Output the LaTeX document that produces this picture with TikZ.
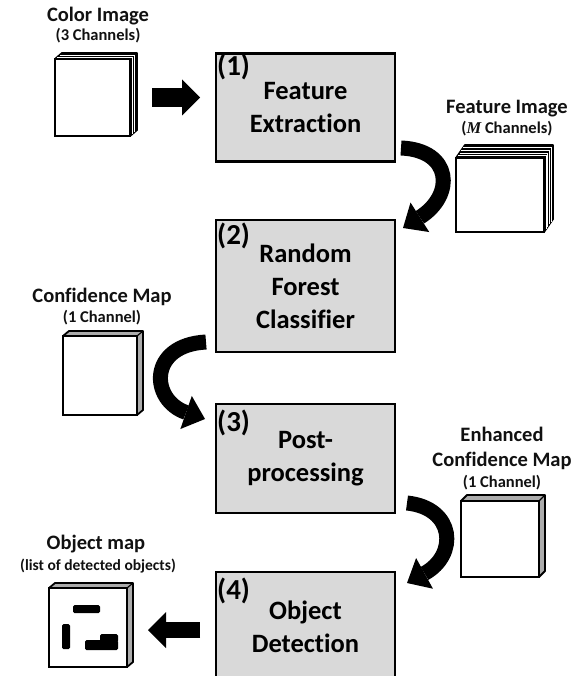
\documentclass[tikz,border=0pt]{standalone}
\usepackage{fontspec}
\setmainfont{Carlito}[Ligatures=NoCommon]
\newfontfamily\mserif{Liberation Serif}
\usetikzlibrary{arrows.meta,calc,backgrounds}
\definecolor{boxgray}{HTML}{D9D9D9}
\definecolor{labelcol}{HTML}{111111}
\newcommand\slabback[6]{%
  \begin{scope}[on background layer]
    \filldraw[fill=#4, draw=black, line width=1.8pt, line join=round]
      (#1.north west) -- ++(#2,-#3) -- ($(#1.north east)+(#2,-#3)$) -- ($(#1.south east)+(#2,-#3)$) -- (#1.south east) -- (#1.north east) -- cycle;
    \draw[black, line width=1.2pt] (#1.north east) -- ++(#2,-#3);
    \ifnum#5>0
    \foreach \i in {1,...,#5}{
      \draw[#6, line width=0.5pt] ($(#1.north west)+({\i*#2/(#5+1)},{-\i*#3/(#5+1)})$) -- ($(#1.north east)+({\i*#2/(#5+1)},{-\i*#3/(#5+1)})$) -- ($(#1.south east)+({\i*#2/(#5+1)},{-\i*#3/(#5+1)})$);
    }
    \fi
  \end{scope}
}
\begin{document}
\begin{tikzpicture}[x=1pt,y=-1pt,
  procbox/.style={draw=black, line width=2.8pt, fill=boxgray, outer sep=0pt, inner sep=0pt},
  cube/.style={draw=black, line width=2.4pt, fill=white, outer sep=0pt, inner sep=0pt},
  boxtext/.style={font=\fontsize{26.5}{33}\selectfont\bfseries, align=center, inner sep=0pt},
  numtext/.style={font=\fontsize{29}{30}\selectfont\bfseries, inner sep=0pt, anchor=base west},
  lbl/.style={font=\fontsize{20.5}{24}\selectfont\bfseries, inner sep=0pt, anchor=base, text=labelcol},
  sublbl/.style={font=\fontsize{16.5}{18}\selectfont\bfseries, inner sep=0pt, anchor=base, text=labelcol},
  straightarrow/.style={line width=#1, -{Triangle[length=18pt,width=36pt,line width=0pt]}},
  curvearrow/.style={line width=15pt, -{Triangle[length=20pt,width=35pt,line width=0pt]}},
  objbar/.style={fill=black, rounded corners=1.5pt}
]
\useasboundingbox (0,0) rectangle (580,676);
\clip (0,0) rectangle (580,676);

% process boxes
\node[procbox, minimum width=179pt, minimum height=108pt] (b1) at (305.5,107.5) {};
\node[procbox, minimum width=179pt, minimum height=132pt] (b2) at (305.5,286) {};
\node[procbox, minimum width=179pt, minimum height=109pt] (b3) at (305.5,458.5) {};
\node[procbox, minimum width=179pt, minimum height=109pt] (b4) at (305.5,626.5) {};

\node[numtext] (n1) at (217,76) {(1)};
\node[numtext] (n2) at (217,244) {(2)};
\node[numtext] (n3) at (217,431) {(3)};
\node[numtext] (n4) at (217,599) {(4)};

\node[boxtext] (t1) at (b1.center) {Feature\\Extraction};
\node[boxtext] (t2) at (b2.center) {Random\\Forest\\Classifier};
\node[boxtext] (t3) at (b3.center) {Post-\\processing};
\node[boxtext] (t4) at (b4.center) {Object\\Detection};

% image stacks
\node[cube, minimum width=75pt, minimum height=77pt] (ci) at (92.5,97.5) {};
\slabback{ci}{7}{6}{black}{2}{white}
\node[cube, minimum width=88pt, minimum height=74pt] (fi) at (500,195) {};
\slabback{fi}{9}{13}{black}{4}{white}
\node[cube, minimum width=74pt, minimum height=79pt] (cm) at (100,375.5) {};
\slabback{cm}{6}{5}{gray!65}{0}{white}
\node[cube, minimum width=78pt, minimum height=76pt] (ecm) at (500,539) {};
\slabback{ecm}{6}{6}{gray!65}{0}{white}
\node[cube, minimum width=78pt, minimum height=79pt] (om) at (88,627.5) {};
\slabback{om}{6}{5}{gray!65}{0}{white}

% detected objects
\fill[objbar] (73,605) rectangle (100,613);
\fill[objbar] (62,624) rectangle (70,649);
\fill[objbar] (85,640) rectangle (118,650);
\fill[objbar] (100,634) rectangle (118,642);

% labels
\node[lbl] (l1) at (98,22) {Color Image};
\node[sublbl] (s1) at (98,41) {(3 Channels)};
\node[lbl] (l2) at (507,114) {Feature Image};
\node[sublbl] (s2) at (507,134) {({\mserif\bfseries\itshape M} Channels)};
\node[lbl] (l3) at (102,302) {Confidence Map};
\node[sublbl] (s3) at (102,322) {(1 Channel)};
\node[lbl] (l4a) at (502,441) {Enhanced};
\node[lbl] (l4b) at (502,466) {Confidence Map};
\node[sublbl] (s4) at (502,487) {(1 Channel)};
\node[lbl] (l5) at (96,549) {Object map};
\node[sublbl, font=\fontsize{15.5}{18}\selectfont\bfseries] (s5) at (98,570) {(list of detected objects)};

% straight arrows
\draw[straightarrow=19pt, shorten <=22pt, shorten >=16pt] (ci.east) -- (ci.east -| b1.west);
\draw[straightarrow=16pt, shorten <=16pt, shorten >=21pt] ($(b4.west)+(0,3.5)$) -- ($(om.east)+(0,2.5)$);

% curved arrows
\draw[curvearrow] ($(b1.east)+(6,40.5)$) .. controls (452,150) and (455,195) .. ($(b2.north east)+(8,8)$);
\draw[curvearrow] ($(b2.west)+(-10,56)$) .. controls (148,345) and (150,400) .. ($(b3.north west)+(-11,15)$);
\draw[curvearrow] ($(b3.east)+(12,44.5)$) .. controls (455,508) and (458,555) .. ($(b4.north east)+(12,11)$);
\end{tikzpicture}
\end{document}
